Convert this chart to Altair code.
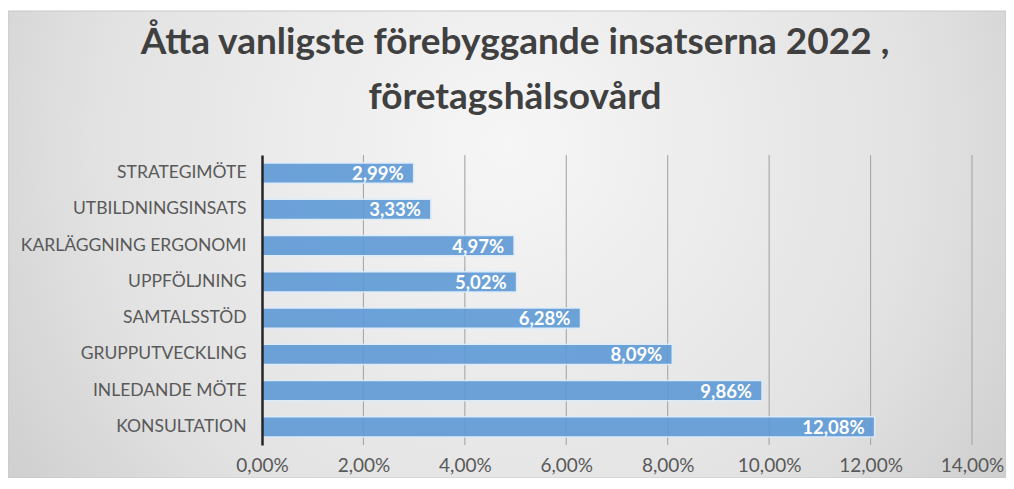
import altair as alt
import pandas as pd

categories = ["STRATEGIMÖTE", "UTBILDNINGSINSATS", "KARLÄGGNING ERGONOMI", "UPPFÖLJNING",
              "SAMTALSSTÖD", "GRUPPUTVECKLING", "INLEDANDE MÖTE", "KONSULTATION"]
values = [0.0299, 0.0333, 0.0497, 0.0502, 0.0628, 0.0809, 0.0986, 0.1208]
x_ticks = [0, 0.02, 0.04, 0.06, 0.08, 0.10, 0.12, 0.14]
title_lines = ["Åtta vanligste förebyggande insatserna 2022 ,", "företagshälsovård"]

df = pd.DataFrame({"cat": categories, "val": values})
grid_df = pd.DataFrame({"t": x_ticks[1:]})

W, H = 710, 290
PL, PR, PT, PB = 254, 34, 147, 33

bg = alt.Chart(pd.DataFrame({"a": [0]})).mark_rect(
    color=alt.RadialGradient(
        gradient="radial",
        stops=[alt.GradientStop(offset=0, color="#f6f6f6"),
               alt.GradientStop(offset=0.55, color="#e2e2e2"),
               alt.GradientStop(offset=1, color="#c0c0c0")],
        x1=0.5, y1=0.4, r1=0, x2=0.5, y2=0.4, r2=0.75),
    stroke="#c8c8c8", strokeWidth=1
).encode(
    x=alt.value(-PL), x2=alt.value(W + PR),
    y=alt.value(-PT + 3), y2=alt.value(H + PB)
)

xscale = alt.Scale(domain=[0, 0.14], nice=False)

grid = alt.Chart(grid_df).mark_rule(color="#a6a6a6", strokeWidth=1.1).encode(
    x=alt.X("t:Q", scale=xscale), y=alt.value(0), y2=alt.value(H)
)

base = alt.Chart(df)

ycat = alt.Y("cat:N", sort=categories, title=None,
             scale=alt.Scale(paddingInner=0.44, paddingOuter=0.22),
             axis=alt.Axis(labelFont="Lato", labelFontSize=17.5, labelColor="#595959",
                           labelPadding=16, ticks=False, domainColor="#262626",
                           domainWidth=2.5, grid=False, labelLimit=300, zindex=1))

bars = base.mark_bar(color="#5e9ad6", opacity=0.9, stroke="#dcecfb", strokeWidth=1.5).encode(
    x=alt.X("val:Q", title=None, scale=xscale,
            axis=alt.Axis(values=x_ticks, labelExpr="replace(format(datum.value, '.2%'), '.', ',')",
                          labelFont="Lato", labelFontSize=19, labelColor="#595959",
                          labelPadding=11, labelFlush=False, ticks=False, domain=False,
                          grid=False, zindex=1)),
    y=ycat,
)

text = base.transform_calculate(
    label="replace(format(datum.val, '.2%'), '.', ',')"
).mark_text(align="right", baseline="middle", dx=-10, dy=1, font="Lato", fontSize=18.5,
            fontWeight="bold", color="white").encode(
    x="val:Q", y=alt.Y("cat:N", sort=categories), text="label:N")

chart = alt.layer(bg, grid, bars, text).properties(
    width=W, height=H,
    autosize=alt.AutoSizeParams(type="none"),
    padding={"left": PL, "right": PR, "top": PT, "bottom": PB},
    title=alt.TitleParams(text=title_lines, font="Lato", fontSize=37, fontWeight="bold",
                          color="#404040", lineHeight=55, anchor="middle", frame="group",
                          dx=-102, offset=-106),
).configure_view(stroke=None).configure(background="white")

chart.save("out.html", embed_options={"renderer": "svg", "actions": False})
